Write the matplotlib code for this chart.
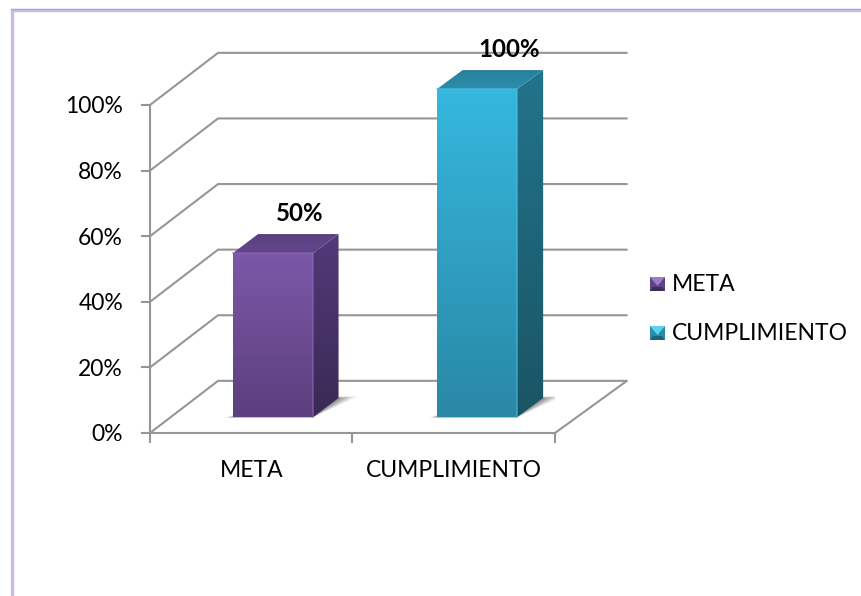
import numpy as np
import matplotlib
matplotlib.use('Agg')
import matplotlib.pyplot as plt
from matplotlib.colors import LinearSegmentedColormap
from matplotlib.patches import Polygon

plt.rcParams['font.family'] = ['Lato', 'DejaVu Sans']

categories = ['META', 'CUMPLIMIENTO']
values = [50, 100]
y_ticks = [0, 20, 40, 60, 80, 100]
value_labels = ['50%', '100%']

# front, side and top shades for each series: (start, end) of the gradient
front_colors = [('#7D57A8', '#5C3F7E'), ('#35B7DE', '#2A88A6')]
side_colors = [('#52397A', '#3A2A55'), ('#22738C', '#1A5565')]
top_colors = [('#5B4080', '#63468A'), ('#27809C', '#2C8DAB')]
edge_colors = ['#8D68B8', '#4CC4E6']

GRID = '#969696'
# depth of the 3D box, in data units (the back wall is a touch wider than the front)
DX_L = 0.336
DX_R = 0.355
DY = 15.9
BAR_W = 0.395
D0, D1 = 0.30, 0.67
bar_pos = [0.504, 1.508]

fig = plt.figure(figsize=(8.62, 5.96), dpi=100)
ax = fig.add_axes([150 / 862, 1 - 433 / 596, 405 / 862, 328 / 596])
ax.set_xlim(0, 2)
ax.set_ylim(0, 100)
ax.axis('off')


def proj(x, y, d):
    return (x + d * (DX_L + (DX_R - DX_L) * x / 2), y + d * DY)


def line(pts, lw=1.5, z=1):
    xs, ys = zip(*pts)
    ax.plot(xs, ys, color=GRID, lw=lw, clip_on=False, zorder=z, solid_capstyle='round')


def shade(pts, c0, c1, z=4):
    # gradient image clipped to the face outline
    pts = np.array(pts)
    cmap = LinearSegmentedColormap.from_list('face', [c0, c1])
    grad = np.linspace(0, 1, 64).reshape(-1, 1)
    im = ax.imshow(grad, cmap=cmap, aspect='auto', origin='upper', zorder=z,
                   extent=[pts[:, 0].min(), pts[:, 0].max(), pts[:, 1].min(), pts[:, 1].max()])
    poly = Polygon(pts, closed=True, transform=ax.transData, fc='none', ec='none')
    ax.add_patch(poly)
    im.set_clip_path(poly)
    im.set_clip_box(fig.bbox)


# walls and floor
for t in y_ticks:
    if t:
        line([proj(0, t, 0), proj(0, t, 1), proj(2, t, 1)])
    else:
        line([proj(0, 0, 0), proj(0, 0, 1), proj(2, 0, 1), proj(2, 0, 0), proj(0, 0, 0)])
    ax.plot([-0.04, 0], [t, t], color=GRID, lw=1.5, clip_on=False, zorder=1)
    ax.text(-0.133, t - 0.6, '%d%%' % t, ha='right', va='center', fontsize=16.5, color='black')
line([proj(0, 0, 0), proj(0, 100, 0)])
for i in range(3):
    ax.plot([i, i], [0, -2.6], color=GRID, lw=1.5, clip_on=False, zorder=1)

for i, (cat, val) in enumerate(zip(categories, values)):
    left = bar_pos[i] - BAR_W / 2
    right = left + BAR_W

    # soft shadow on the floor
    for grow, alpha in [(0.055, 0.06), (0.045, 0.08), (0.035, 0.11), (0.025, 0.15), (0.012, 0.2)]:
        shadow = [proj(left - grow * 0.7, 0, D0 - 0.004), proj(right, 0, D0 - 0.004),
                  proj(right + grow * 1.6, 0, D1 + grow * 0.6), proj(right - 0.03, 0, D1 + grow * 0.6),
                  proj(left - grow * 0.1, 0, D0 + grow * 1.2)]
        ax.add_patch(Polygon(shadow, closed=True, fc='#303030', ec='none', alpha=alpha, zorder=2))

    shade([proj(left, 0, D0), proj(right, 0, D0), proj(right, val, D0), proj(left, val, D0)],
          front_colors[i][0], front_colors[i][1])
    shade([proj(right, 0, D0), proj(right, 0, D1), proj(right, val, D1), proj(right, val, D0)],
          side_colors[i][0], side_colors[i][1])
    shade([proj(left, val, D0), proj(right, val, D0), proj(right, val, D1), proj(left, val, D1)],
          top_colors[i][0], top_colors[i][1])

    # bevel highlight along the front edges
    xs, ys = zip(proj(left, val, D0), proj(right, val, D0), proj(right, 0, D0))
    ax.plot(xs, ys, color=edge_colors[i], lw=1.2, alpha=0.6, clip_on=False, zorder=5)

    ax.text(i + 0.5, -11.4, cat, ha='center', va='center', fontsize=16.5, color='black', zorder=6)

# value labels sit above the boxes
ax.text(0.74, 67.0, value_labels[0], ha='center', va='center', fontsize=17.3, fontweight='bold', zorder=6)
ax.text(1.773, 117.0, value_labels[1], ha='center', va='center', fontsize=17.3, fontweight='bold', zorder=6)

# page border, behind everything
bg = fig.add_axes([0, 0, 1, 1], zorder=-1)
bg.set_xlim(0, 862)
bg.set_ylim(596, 0)
bg.axis('off')
bg.plot([12.5, 12.5, 862], [596, 10, 10], color='#C9BCDC', lw=2.4, solid_joinstyle='miter')
bg.plot([11, 862], [9.2, 9.2], color='#AFA0C6', lw=0.9)

# legend keys are small bevelled squares
key = fig.add_axes([0, 0, 1, 1], zorder=5)
key.set_xlim(0, 862)
key.set_ylim(596, 0)
key.axis('off')
key.patch.set_alpha(0)
key_y = [284, 333]
key_faces = [('#5E4384', '#9C7CC8', '#3F2C5C'), ('#2B8CA8', '#5CD2EE', '#1D6379')]
for y0, name, (mid, light, dark) in zip(key_y, categories, key_faces):
    x0 = 650
    key.add_patch(Polygon([(x0, y0 - 7), (x0 + 15, y0 - 7), (x0 + 15, y0 + 7), (x0, y0 + 7)], fc=mid, ec='none'))
    key.add_patch(Polygon([(x0, y0 - 7), (x0 + 15, y0 - 7), (x0 + 7.5, y0 + 2)], fc=light, ec='none'))
    key.add_patch(Polygon([(x0, y0 + 7), (x0 + 15, y0 + 7), (x0 + 12, y0 + 3), (x0 + 3, y0 + 3)], fc=dark, ec='none'))
    key.text(672, y0 + 0.3, name, ha='left', va='center', fontsize=16.5, color='black')

ax.set_xlim(0, 2)
ax.set_ylim(0, 100)
fig.savefig('out.png', dpi=100, facecolor='white')
